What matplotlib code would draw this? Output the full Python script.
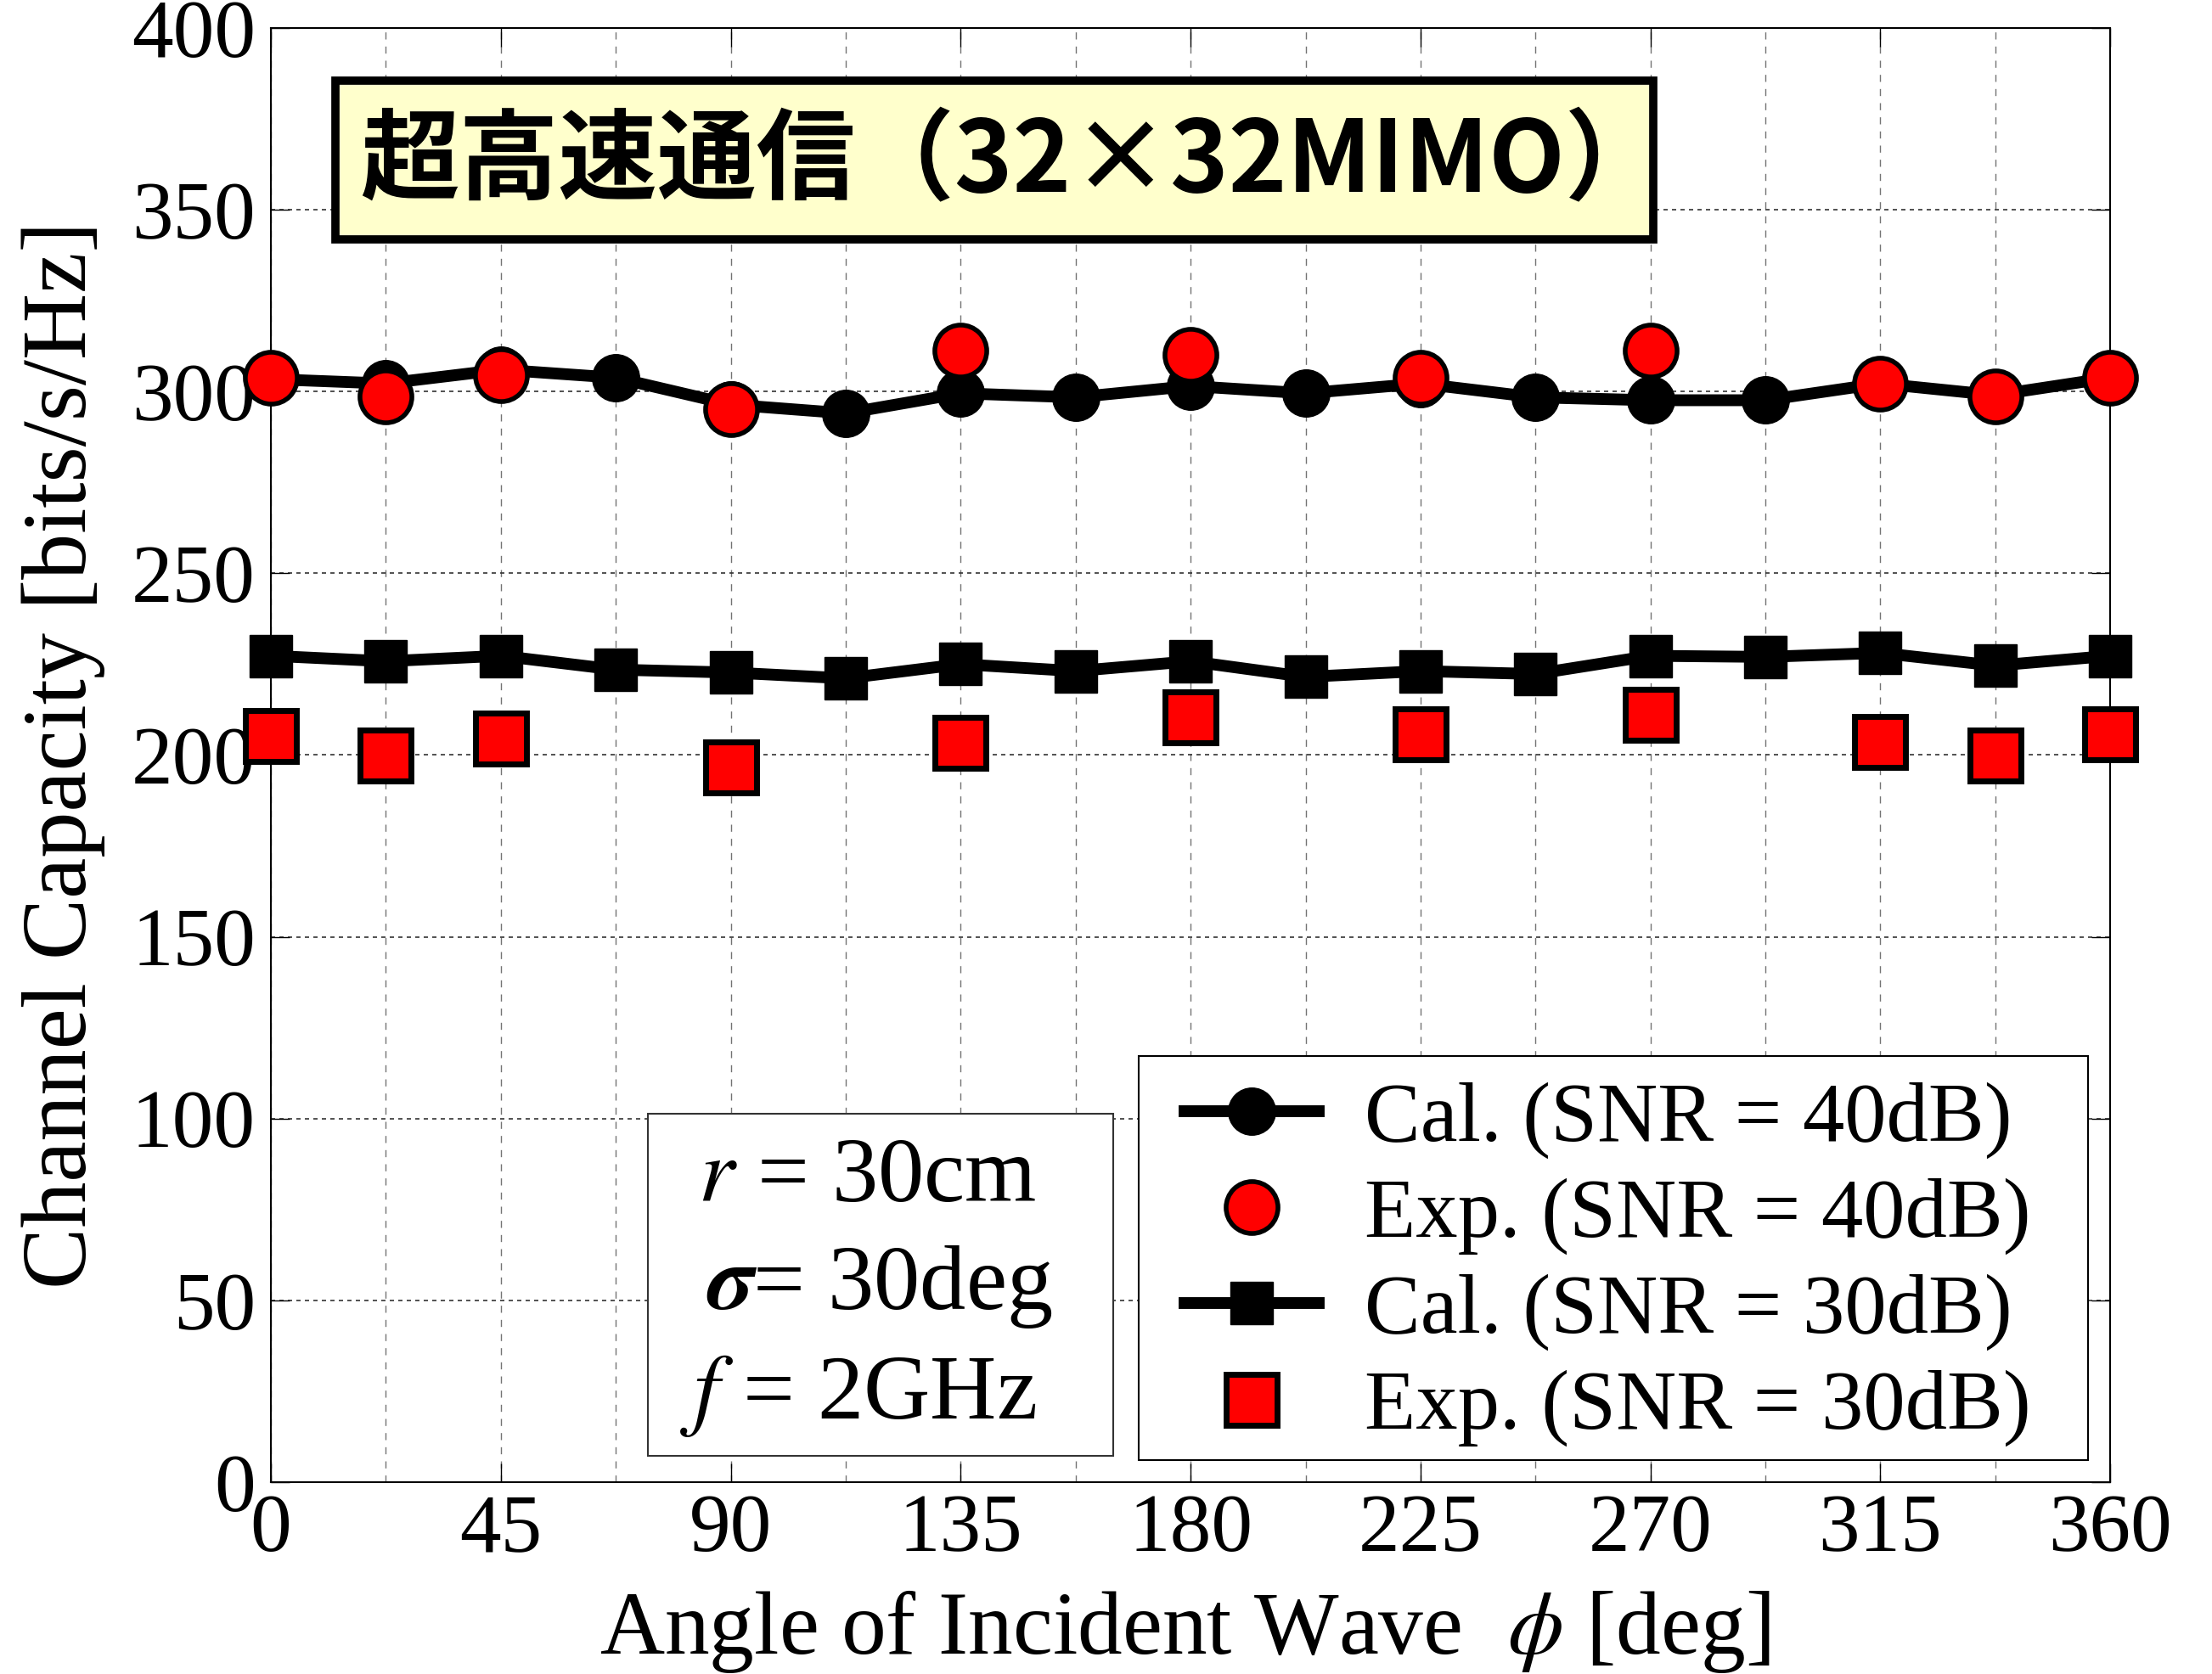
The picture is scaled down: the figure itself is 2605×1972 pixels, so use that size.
import matplotlib
matplotlib.use("Agg")
import matplotlib.pyplot as plt
from matplotlib.patches import Rectangle
from matplotlib.ticker import MultipleLocator
import numpy as np

plt.rcParams['font.family'] = ['Liberation Serif', 'DejaVu Serif']
plt.rcParams['mathtext.fontset'] = 'stix'

# angles of incident wave [deg]
angle_cal = np.arange(0, 360.1, 22.5)
angle_exp = [0, 22.5, 45, 90, 135, 180, 225, 270, 315, 337.5, 360]

cal_40 = [303.4, 302.2, 306.0, 303.8, 296.4, 294.0, 299.5, 298.4, 301.5,
          299.5, 302.2, 298.4, 297.6, 297.6, 302.2, 299.0, 303.8]
exp_40 = [303.8, 298.7, 304.6, 295.2, 311.2, 310.0, 303.8, 311.2, 302.2, 298.7, 303.8]

cal_30 = [227.3, 225.8, 227.3, 223.5, 222.7, 221.1, 225.0, 223.1, 225.8,
          221.5, 223.1, 222.3, 227.3, 227.0, 228.1, 224.6, 227.3]
exp_30 = [205.2, 199.8, 204.5, 196.7, 203.3, 210.3, 205.6, 211.1, 203.7, 199.8, 205.6]

labels = ["Cal. (SNR = 40dB)", "Exp. (SNR = 40dB)",
          "Cal. (SNR = 30dB)", "Exp. (SNR = 30dB)"]

fig = plt.figure(figsize=(26.05, 19.72), dpi=100)
ax = fig.add_axes([0.1225, 0.1146, 0.8315, 0.8687])

ax.plot(angle_cal, cal_40, color='black', lw=10, marker='o', ms=40,
        mfc='black', mec='black', label=labels[0], zorder=3, clip_on=False)
ax.plot(angle_exp, exp_40, ls='none', marker='o', ms=44, mfc='red',
        mec='black', mew=4, label=labels[1], zorder=4, clip_on=False)
ax.plot(angle_cal, cal_30, color='black', lw=10, marker='s', ms=36,
        mfc='black', mec='black', label=labels[2], zorder=3, clip_on=False)
ax.plot(angle_exp, exp_30, ls='none', marker='s', ms=43, mfc='red',
        mec='black', mew=5, label=labels[3], zorder=4, clip_on=False)

ax.set_xlim(0, 360)
ax.set_ylim(0, 400)
ax.xaxis.set_major_locator(MultipleLocator(45))
ax.xaxis.set_minor_locator(MultipleLocator(22.5))
ax.yaxis.set_major_locator(MultipleLocator(50))
ax.tick_params(which='major', direction='in', length=16, width=1,
               top=True, right=True, labelsize=70)
ax.tick_params(which='minor', length=0)
ax.tick_params(axis='x', pad=10)
ax.tick_params(axis='y', pad=13)
ax.grid(True, axis='x', which='both', color='0.45', ls=(0, (6, 6)), lw=1)
ax.grid(True, axis='y', which='major', color='0.2', ls=(0, (3, 3)), lw=1.2)
ax.set_axisbelow(True)
for s in ax.spines.values():
    s.set_linewidth(1.5)

ax.set_xlabel(r"Angle of Incident Wave  $\phi$ [deg]", fontsize=76, va='baseline')
ax.xaxis.set_label_coords(0.497, -0.118)
ax.set_ylabel("Channel Capacity [bits/s/Hz]", fontsize=78, va='center')
ax.yaxis.set_label_coords(-0.113, 0.5)

# title box
ax.add_patch(Rectangle((0.035, 0.8546), 0.7166, 0.1092, transform=ax.transAxes,
                       facecolor='#FFFFCC', edgecolor='black', lw=7, zorder=5))
ax.text(0.403, 0.907, "超高速通信（32×32MIMO）", transform=ax.transAxes,
        ha='center', va='center', fontsize=84, fontweight='bold',
        family=['Noto Sans CJK JP', 'DejaVu Sans'], zorder=6)

# parameter box
ax.add_patch(Rectangle((0.205, 0.018), 0.253, 0.2354, transform=ax.transAxes,
                       facecolor='white', edgecolor='0.2', lw=1.5, zorder=5))
ax.text(0.232, 0.1932, r"$r$ = 30cm", transform=ax.transAxes, fontsize=78,
        va='baseline', zorder=6)
ax.text(0.2368, 0.119, r"$\boldsymbol{\sigma}$= 30deg", transform=ax.transAxes,
        fontsize=78, va='baseline', zorder=6)
ax.text(0.2225, 0.0438, r"$f$ = 2GHz", transform=ax.transAxes, fontsize=78,
        va='baseline', zorder=6)

# legend frame drawn separately so its padding matches
ax.add_patch(Rectangle((0.472, 0.0152), 0.516, 0.2778, transform=ax.transAxes,
                       facecolor='white', edgecolor='black', lw=1.5, zorder=6))
leg = ax.legend(loc='center left', bbox_to_anchor=(0.4968, 0.1498),
                borderaxespad=0, borderpad=0, fontsize=71, frameon=False,
                handlelength=1.6, handletextpad=0.55, labelspacing=0.23)
leg.set_zorder(7)

fig.savefig("out.png", dpi=100)
